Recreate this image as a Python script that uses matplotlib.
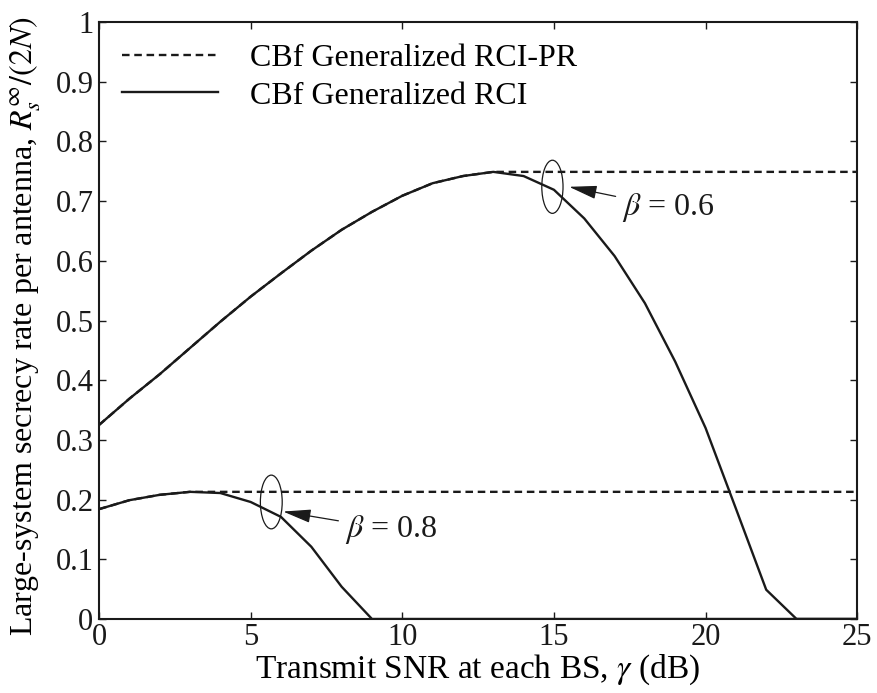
import matplotlib
matplotlib.use("Agg")
import matplotlib.pyplot as plt
from matplotlib.patches import Ellipse
from matplotlib.ticker import FixedLocator, FixedFormatter

plt.rcParams['font.family'] = ['Liberation Serif', 'DejaVu Serif']
plt.rcParams['mathtext.fontset'] = 'stix'

# Transmit SNR grid (dB)
snr_db = list(range(0, 26))

# beta = 0.6, generalized RCI (solid)
rci_06 = [0.325, 0.369, 0.410, 0.454, 0.498, 0.540, 0.579, 0.617, 0.652, 0.682,
          0.709, 0.730, 0.742, 0.749, 0.742, 0.719, 0.671, 0.608, 0.529, 0.431,
          0.320, 0.185, 0.049, 0.0, 0.0, 0.0]
# beta = 0.6, generalized RCI with power reduction (dashed)
rci_pr_06 = [0.325, 0.369, 0.410, 0.454, 0.498, 0.540, 0.579, 0.617, 0.652, 0.682,
             0.709, 0.730, 0.742, 0.749, 0.749, 0.749, 0.749, 0.749, 0.749, 0.749,
             0.749, 0.749, 0.749, 0.749, 0.749, 0.749]

# beta = 0.8, generalized RCI (solid)
rci_08 = [0.184, 0.199, 0.208, 0.213, 0.211, 0.196, 0.171, 0.121, 0.054, 0.0,
          0.0, 0.0, 0.0, 0.0, 0.0, 0.0, 0.0, 0.0, 0.0, 0.0,
          0.0, 0.0, 0.0, 0.0, 0.0, 0.0]
# beta = 0.8, generalized RCI with power reduction (dashed)
rci_pr_08 = [0.184, 0.199, 0.208, 0.213, 0.213, 0.213, 0.213, 0.213, 0.213, 0.213,
             0.213, 0.213, 0.213, 0.213, 0.213, 0.213, 0.213, 0.213, 0.213, 0.213,
             0.213, 0.213, 0.213, 0.213, 0.213, 0.213]

x_ticks = [0, 5, 10, 15, 20, 25]
y_ticks = [0, 0.1, 0.2, 0.3, 0.4, 0.5, 0.6, 0.7, 0.8, 0.9, 1]
y_tick_labels = ['0', '0.1', '0.2', '0.3', '0.4', '0.5', '0.6', '0.7', '0.8', '0.9', '1']

ink = '#1a1a1a'

fig = plt.figure(figsize=(8.78, 6.93), dpi=100)
ax = fig.add_axes([0.1128, 0.1068, 0.8635, 0.8614])

lw = 1.7
dash = (0, (3.2, 2.0))
ax.plot(snr_db, rci_pr_06, color=ink, lw=lw, linestyle=dash,
        label='CBf Generalized RCI-PR')
ax.plot(snr_db, rci_06, color=ink, lw=lw, label='CBf Generalized RCI')
ax.plot(snr_db, rci_pr_08, color=ink, lw=lw, linestyle=dash)
ax.plot(snr_db, rci_08, color=ink, lw=lw)

ax.set_xlim(0, 25)
ax.set_ylim(0, 1)
ax.xaxis.set_major_locator(FixedLocator(x_ticks))
ax.yaxis.set_major_locator(FixedLocator(y_ticks))
ax.yaxis.set_major_formatter(FixedFormatter(y_tick_labels))
ax.tick_params(direction='in', length=5, width=1, top=True, right=True,
               labelsize=22, pad=4, colors=ink)
ax.tick_params(axis='x', pad=3)
for sp in ax.spines.values():
    sp.set_linewidth(1.5)
    sp.set_color(ink)

ax.set_xlabel(r'Transmit SNR at each BS, $\gamma$ (dB)', fontsize=24, labelpad=0)
ax.set_ylabel(r'Large-system secrecy rate per antenna, $R_s^{\infty}/(2N)$',
              fontsize=23)
ax.yaxis.set_label_coords(-0.074, 0.49)

ax.legend(loc='upper left', frameon=False, fontsize=23, handlelength=3.0,
          handletextpad=1.0, borderaxespad=0.0, borderpad=0.0, labelspacing=0.24,
          bbox_to_anchor=(0.030, 0.963))

# Group markers and labels for each beta
arrow = dict(arrowstyle='-|>,head_length=0.75,head_width=0.18',
             lw=0.9, color=ink, shrinkA=3, shrinkB=0)
ax.add_patch(Ellipse((14.95, 0.724), 0.7, 0.089, fill=False, lw=0.9, color=ink))
ax.annotate(r'$\beta$ = 0.6', xy=(15.5, 0.724), xytext=(17.26, 0.677),
            fontsize=23, va='baseline', ha='left', color=ink, arrowprops=arrow)
ax.add_patch(Ellipse((5.68, 0.196), 0.72, 0.09, fill=False, lw=0.9, color=ink))
ax.annotate(r'$\beta$ = 0.8', xy=(6.07, 0.18), xytext=(8.12, 0.137),
            fontsize=23, va='baseline', ha='left', color=ink, arrowprops=arrow)

fig.savefig('out.png', dpi=100)
